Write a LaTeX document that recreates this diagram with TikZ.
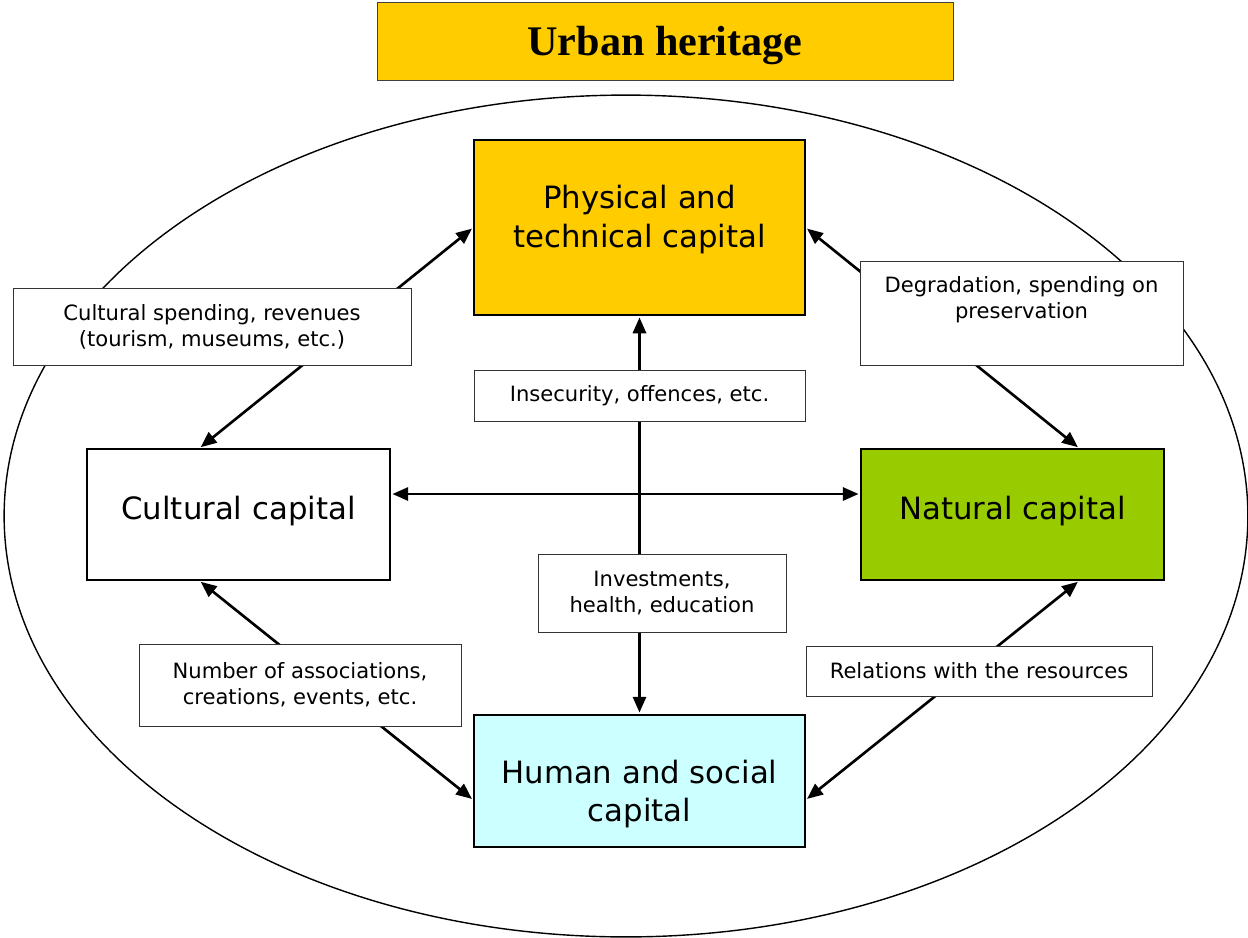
\documentclass[tikz,border=0pt]{standalone}
\usepackage{fontspec}
\setmainfont{Liberation Serif}
\setsansfont{DejaVu Sans}
\usepackage{tikz}
\usetikzlibrary{arrows.meta,positioning}

\definecolor{gold}{HTML}{FFCC00}
\definecolor{leaf}{HTML}{99CC00}
\definecolor{sky}{HTML}{CCFFFF}

% struts to nudge text inside a box
\newcommand{\updepth}[1]{\rule[-#1]{0pt}{#1}}
\newcommand{\downheight}[1]{\rule{0pt}{#1}}

\begin{document}
\begin{tikzpicture}[x=0.02cm, y=-0.02cm,
  title_style/.style={rectangle,draw=black!75,fill=gold,minimum width=11.52cm,minimum height=1.56cm,
    text depth=0pt,font=\fontsize{24}{28}\selectfont\bfseries},
  cap_style/.style={rectangle,draw=black,thick,align=center,inner sep=2pt,
    font=\sffamily\fontsize{17.5}{22}\selectfont},
  note_style/.style={rectangle,draw=black!80,fill=white,align=center,inner sep=2pt,
    font=\sffamily\fontsize{12}{14.7}\selectfont},
  arrow_style/.style={draw=black, line width=1.5pt, {Triangle[length=9pt,width=7.5pt]}-{Triangle[length=9pt,width=7.5pt]}, shorten <=1pt, shorten >=1pt}]

  \useasboundingbox (0,0) rectangle (1248,937);

  \node (title) [title_style] at (665,41) {Urban heritage};
  \draw [line width=0.8pt] (626,516) ellipse [x radius=12.44cm, y radius=8.42cm];

  \node (phys) [cap_style, fill=gold, minimum width=6.62cm, minimum height=3.5cm] at (639.5,227.5) {Physical and\\technical capital\updepth{13pt}};
  \node (cult) [cap_style, fill=white, minimum width=6.06cm, minimum height=2.62cm] at (238.5,514.5) {Cultural capital\updepth{7.5pt}};
  \node (nat)  [cap_style, fill=leaf, minimum width=6.06cm, minimum height=2.62cm] at (1012.5,514.5) {Natural capital\updepth{7.5pt}};
  \node (hum)  [cap_style, fill=sky, minimum width=6.62cm, minimum height=2.64cm] at (639.5,781) {\downheight{28pt}Human and social\\capital};
  \coordinate (hub) at (640,494);
  %
  \draw [arrow_style] ([xshift=2.26cm]cult.north west) -- (phys.west);
  \draw [arrow_style] (phys.east) -- ([xshift=4.38cm]nat.north west);
  \draw [arrow_style] ([xshift=2.26cm]cult.south west) -- ([yshift=-0.38cm]hum.west);
  \draw [arrow_style] ([xshift=4.38cm]nat.south west) -- ([yshift=-0.38cm]hum.east);
  \draw [arrow_style] (phys.south) -- (hum.north);
  \draw [arrow_style] (cult.east |- hub) -- (nat.west |- hub);
  %
  \node (spend) [note_style, minimum width=7.96cm, minimum height=1.54cm] at (212,326.5) {Cultural spending, revenues\\(tourism, museums, etc.)};
  \node (degr)  [note_style, minimum width=6.46cm, minimum height=2.08cm] at (1021.5,313) {Degradation, spending on\\preservation\updepth{17.6pt}};
  \node (insec) [note_style, minimum width=6.62cm, minimum height=1.02cm] at (639.5,395.5) {Insecurity, offences, etc.};
  \node (invest)[note_style, minimum width=4.96cm, minimum height=1.56cm] at (662,593) {Investments,\\health, education};
  \node (assoc) [note_style, minimum width=6.44cm, minimum height=1.64cm] at (300,685) {Number of associations,\\creations, events, etc.};
  \node (rel)   [note_style, minimum width=6.92cm, minimum height=1.0cm] at (979,671) {Relations with the resources};
\end{tikzpicture}
\end{document}
